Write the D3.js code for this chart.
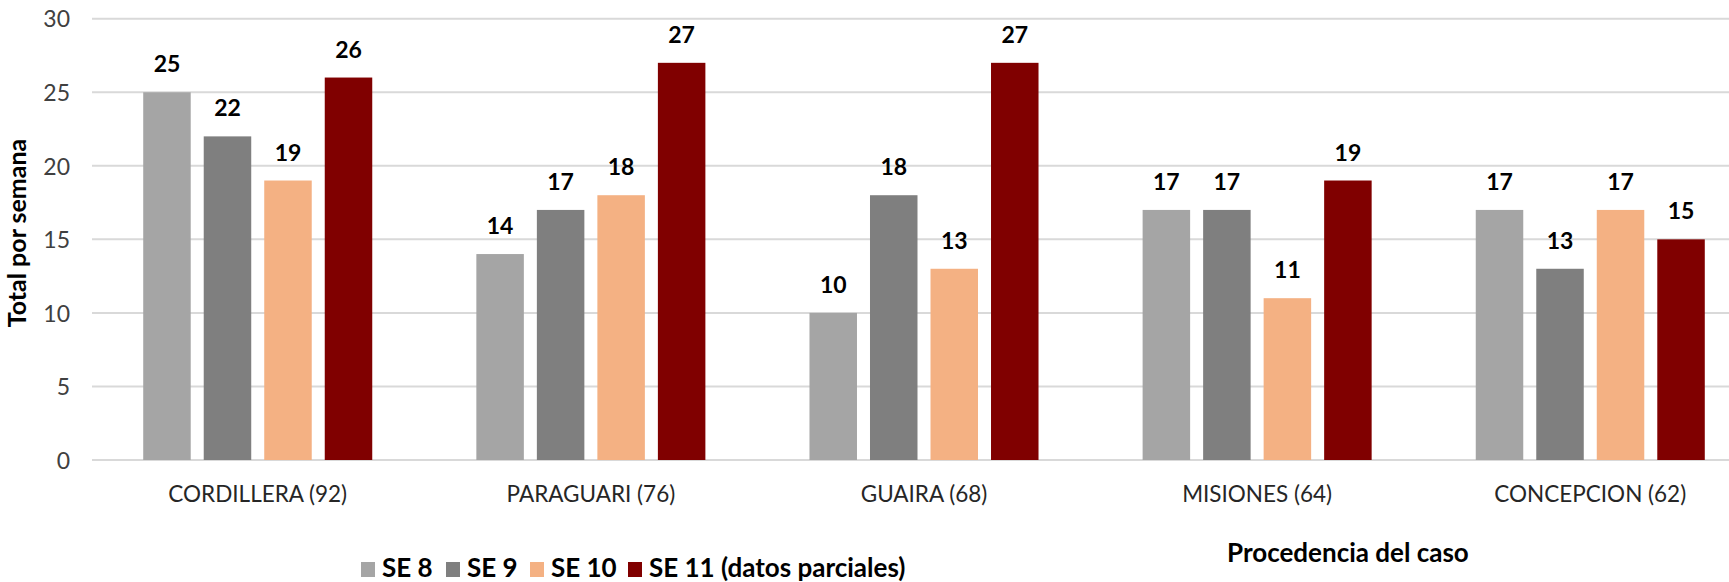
<!DOCTYPE html>
<html>
<head>
<meta charset="utf-8">
<script src="https://cdn.jsdelivr.net/npm/d3@7"></script>
<style>
  html, body { margin: 0; padding: 0; background: #ffffff; }
  svg { display: block; font-family: Lato, "Open Sans", sans-serif; }
</style>
</head>
<body>
<svg id="chart" width="1729" height="582"></svg>
<script>
// ---- data ----
const categories = ["CORDILLERA (92)", "PARAGUARI (76)", "GUAIRA (68)", "MISIONES (64)", "CONCEPCION (62)"];
const seriesNames = ["SE 8", "SE 9", "SE 10", "SE 11 (datos parciales)"];
const se8  = [25, 14, 10, 17, 17];
const se9  = [22, 17, 18, 17, 13];
const se10 = [19, 18, 13, 11, 17];
const se11 = [26, 27, 27, 19, 15];
const yTicks = [0, 5, 10, 15, 20, 25, 30];
const yTitle = "Total por semana";
const xTitle = "Procedencia del caso";
const colors = ["#a5a5a5", "#7f7f7f", "#f4b183", "#800000"];

const seriesValues = [se8, se9, se10, se11];

// ---- layout ----
const svg = d3.select("#chart");
const x0 = d3.scaleBand().domain(categories).range([91.25, 1756.75]).paddingInner(0.3125).paddingOuter(0.156);
const x1 = d3.scaleBand().domain(seriesNames).range([0, x0.bandwidth()]).paddingInner(0.215).paddingOuter(0);
const y = d3.scaleLinear().domain([0, 30]).range([460, 18.7]);

// gridlines
svg.append("g").selectAll("line").data(yTicks).join("line")
  .attr("x1", 92).attr("x2", 1729)
  .attr("y1", d => y(d)).attr("y2", d => y(d))
  .attr("stroke", "#d9d9d9").attr("stroke-width", 2);

// y axis labels
const yAxis = d3.axisLeft(y).tickValues(yTicks).tickSize(0).tickPadding(0);
const gy = svg.append("g").attr("transform", "translate(70,0)").call(yAxis);
gy.select(".domain").remove();
gy.selectAll("text").attr("font-size", 23).attr("fill", "#404040")
  .attr("font-family", "Lato, sans-serif").attr("dy", "0.36em");

// x axis labels
const xAxis = d3.axisBottom(x0).tickSize(0).tickPadding(0);
const gx = svg.append("g").attr("transform", "translate(0,502)").call(xAxis);
gx.select(".domain").remove();
gx.selectAll("text").attr("font-size", 22.5).attr("fill", "#262626")
  .attr("font-family", "Lato, sans-serif").attr("dy", 0);

// bars + value labels
const groups = svg.append("g").selectAll("g").data(categories).join("g")
  .attr("transform", d => `translate(${x0(d)},0)`);

groups.each(function(cat, ci) {
  const g = d3.select(this);
  const rows = seriesNames.map((s, si) => ({ s, si, v: seriesValues[si][ci] }));
  g.selectAll("rect").data(rows).join("rect")
    .attr("x", d => x1(d.s)).attr("width", x1.bandwidth())
    .attr("y", d => y(d.v)).attr("height", d => y(0) - y(d.v))
    .attr("fill", d => colors[d.si]);
  g.selectAll("text").data(rows).join("text")
    .attr("x", d => x1(d.s) + x1.bandwidth() / 2)
    .attr("y", d => y(d.v) - 20)
    .attr("text-anchor", "middle")
    .attr("font-size", 23).attr("font-weight", "bold").attr("fill", "#000")
    .text(d => d.v);
});

// y title
svg.append("text")
  .attr("transform", "translate(26,233) rotate(-90)")
  .attr("text-anchor", "middle")
  .attr("font-size", 25).attr("font-weight", "bold").attr("fill", "#000")
  .text(yTitle);

// x title
svg.append("text")
  .attr("x", 1227).attr("y", 562)
  .attr("font-size", 26).attr("font-weight", "bold").attr("fill", "#000")
  .text(xTitle);

// legend
const legendX = [361, 446, 530, 628];
const lg = svg.append("g").selectAll("g").data(seriesNames).join("g")
  .attr("transform", (d, i) => `translate(${legendX[i]},0)`);
lg.append("rect").attr("x", 0).attr("y", 562).attr("width", 14).attr("height", 15)
  .attr("fill", (d, i) => colors[i]);
lg.append("text").attr("x", 21).attr("y", 577)
  .attr("font-size", 26).attr("font-weight", "bold").attr("fill", "#000")
  .text(d => d);
</script>
</body>
</html>
